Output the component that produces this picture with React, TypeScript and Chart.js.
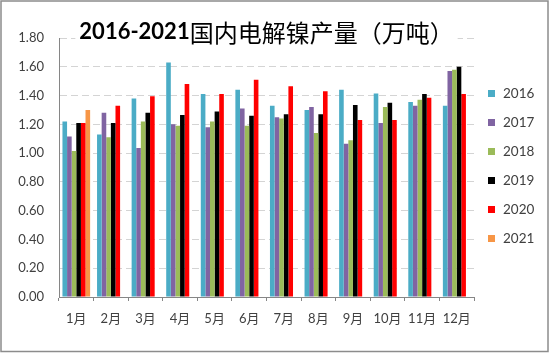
import React, { useEffect, useRef } from "react";
import { Chart, registerables } from "chart.js";

Chart.register(...registerables);

const categories = ["1月", "2月", "3月", "4月", "5月", "6月", "7月", "8月", "9月", "10月", "11月", "12月"];
const seriesNames = ["2016", "2017", "2018", "2019", "2020", "2021"];
const colors = ["#4BACC6", "#8064A2", "#9BBB59", "#000000", "#FF0000", "#F79646"];

const v2016 = [1.22, 1.13, 1.38, 1.63, 1.41, 1.44, 1.33, 1.30, 1.44, 1.415, 1.355, 1.33];
const v2017 = [1.115, 1.28, 1.035, 1.20, 1.18, 1.31, 1.25, 1.32, 1.065, 1.21, 1.33, 1.57];
const v2018 = [1.015, 1.11, 1.22, 1.19, 1.22, 1.19, 1.24, 1.14, 1.09, 1.32, 1.37, 1.58];
const v2019 = [1.21, 1.21, 1.28, 1.265, 1.29, 1.26, 1.27, 1.27, 1.335, 1.35, 1.41, 1.60];
const v2020 = [1.21, 1.33, 1.395, 1.48, 1.41, 1.51, 1.465, 1.43, 1.23, 1.23, 1.385, 1.41];
const v2021 = [1.30, null, null, null, null, null, null, null, null, null, null, null];

const seriesValues = [v2016, v2017, v2018, v2019, v2020, v2021];

const titleLatin = "2016-2021";
const titleCJK = "国内电解镍产量（万吨）";

const FONT = "Lato, 'Noto Sans CJK SC', sans-serif";

export default function App() {
  const ref = useRef<HTMLCanvasElement | null>(null);

  useEffect(() => {
    document.body.style.margin = "0";
    const canvas = ref.current;
    if (!canvas) return;

    const decor = {
      id: "decor",
      beforeDraw(chart: any) {
        const ctx = chart.ctx;
        ctx.save();
        ctx.fillStyle = "#ffffff";
        ctx.fillRect(0, 0, chart.width, chart.height);
        ctx.restore();
      },
      afterDraw(chart: any) {
        const ctx = chart.ctx;
        const area = chart.chartArea;
        ctx.save();
        // title
        ctx.font = "bold 22px Lato, sans-serif";
        const w1 = ctx.measureText(titleLatin).width;
        ctx.font = "24px 'Noto Sans CJK SC', sans-serif";
        const w2 = ctx.measureText(titleCJK).width;
        const total = w1 + w2;
        const cx = (area.left + area.right) / 2;
        const x0 = cx - total / 2;
        const ty = 32;
        ctx.fillStyle = "#ffffff";
        ctx.fillRect(x0 - 4, 18, total + 8, 28);
        ctx.fillStyle = "#000000";
        ctx.textBaseline = "middle";
        ctx.textAlign = "left";
        ctx.font = "bold 22px Lato, sans-serif";
        ctx.fillText(titleLatin, x0, ty);
        ctx.font = "24px 'Noto Sans CJK SC', sans-serif";
        ctx.fillText(titleCJK, x0 + w1, ty + 1);

        // legend
        ctx.font = "13.5px " + FONT;
        chart.data.datasets.forEach((ds: any, i: number) => {
          const y = 93.5 + i * 29;
          ctx.fillStyle = ds.backgroundColor;
          ctx.fillRect(488, y - 3.5, 7, 7);
          ctx.fillStyle = "#404040";
          ctx.fillText(ds.label, 503, y);
        });

        // border
        ctx.strokeStyle = "#8c8c8c";
        ctx.lineWidth = 1.5;
        ctx.strokeRect(1, 1, chart.width - 3, chart.height - 2.5);
        ctx.restore();
      },
    };

    const chart = new Chart(canvas, {
      type: "bar",
      data: {
        labels: categories,
        datasets: seriesNames.map((name, i) => ({
          label: name,
          data: seriesValues[i],
          backgroundColor: colors[i],
          borderWidth: 0,
          categoryPercentage: 0.8,
          barPercentage: 1.0,
        })),
      },
      options: {
        animation: false,
        responsive: false,
        maintainAspectRatio: false,
        devicePixelRatio: 1,
        layout: { padding: { left: 0, top: 38, right: 76, bottom: 26 } },
        plugins: {
          legend: { display: false },
          title: { display: false },
          tooltip: { enabled: false },
        },
        scales: {
          x: {
            afterFit(scale: any) {
              scale.height = 30;
            },
            grid: {
              display: true,
              drawOnChartArea: false,
              drawTicks: true,
              tickLength: 4,
              offset: true,
              color: "#868686",
            },
            border: { display: true, color: "#868686", width: 1 },
            ticks: {
              padding: 10,
              color: "#404040",
              font: { family: FONT, size: 13 },
              maxRotation: 0,
              autoSkip: false,
            },
          },
          y: {
            min: 0,
            max: 1.8,
            afterFit(scale: any) {
              scale.width = 59;
            },
            ticks: {
              stepSize: 0.2,
              padding: 15,
              color: "#404040",
              font: { family: FONT, size: 13 },
              callback: (v: any) => Number(v).toFixed(2),
            },
            grid: {
              drawTicks: false,
              color: (c: any) => (c.tick && c.tick.value === 0 ? "rgba(0,0,0,0)" : "#d4d4d4"),
            },
            border: { display: true, color: "#868686", width: 1, dash: [7, 4] },
          },
        },
      },
      plugins: [decor],
    } as any);

    return () => chart.destroy();
  }, []);

  return (
    <div style={{ width: 550, height: 353 }}>
      <canvas ref={ref} width={550} height={353} style={{ display: "block", width: 550, height: 353 }} />
    </div>
  );
}
